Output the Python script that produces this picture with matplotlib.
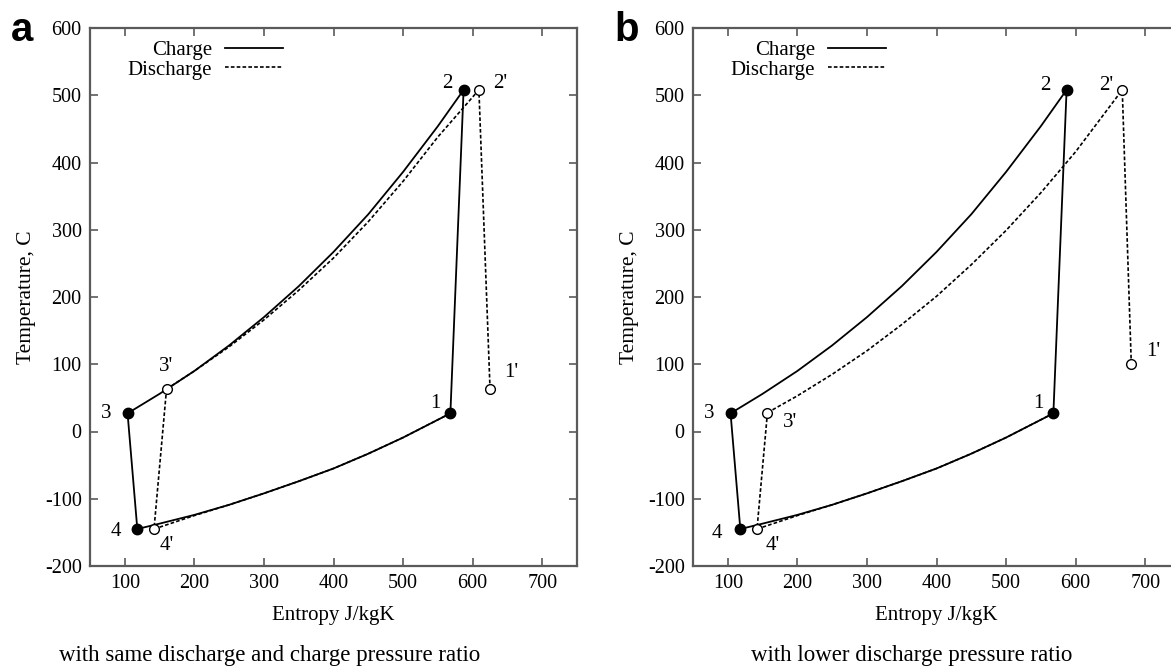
import matplotlib.pyplot as plt
from matplotlib.lines import Line2D

plt.rcParams['font.family'] = ['Liberation Serif', 'DejaVu Serif']
plt.rcParams['axes.unicode_minus'] = False

# charge cycle (same in both panels): state points 1..4
s_ch = [568, 587, 104, 118]
T_ch = [27, 508, 27, -145]
ch_names = ['1', '2', '3', '4']

# charge high pressure line 3 -> 2
s_ch_hi = [104, 150, 200, 250, 300, 350, 400, 450, 500, 550, 587]
T_ch_hi = [27, 56, 90, 128, 170, 216, 267, 323, 386, 454, 508]
# charge low pressure line 4 -> 1
s_ch_lo = [118, 150, 200, 250, 300, 350, 400, 450, 500, 568]
T_ch_lo = [-145, -137, -124, -109, -92, -74, -55, -33, -9, 27]

# panel a: discharge with same pressure ratio, states 1'..4'
s_dis_a = [625, 609, 160, 142]
T_dis_a = [63, 508, 63, -145]
s_dis_a_hi = [160, 200, 250, 300, 350, 400, 450, 500, 550, 609]
T_dis_a_hi = [63, 90, 126, 166, 210, 258, 312, 372, 438, 508]

# panel b: discharge with lower pressure ratio
s_dis_b = [680, 667, 157, 142]
T_dis_b = [100, 508, 28, -145]
s_dis_b_hi = [157, 200, 250, 300, 350, 400, 450, 500, 550, 600, 667]
T_dis_b_hi = [28, 53, 85, 120, 159, 201, 248, 299, 355, 416, 508]

# discharge low pressure line 4' -> 1
s_dis_lo = [142, 200, 250, 300, 350, 400, 450, 500, 568]
T_dis_lo = [-145, -125, -109, -92, -74, -55, -33, -9, 27]
dis_names = ["1'", "2'", "3'", "4'"]

# label positions
lab_a = {'1': (547, 42), '2': (563, 517), '3': (73, 27), '4': (87, -149),
         "1'": (655, 87), "2'": (640, 517), "3'": (160, 96), "4'": (161, -169)}
lab_b = {'1': (547, 42), '2': (557, 515), '3': (73, 27), '4': (85, -151),
         "1'": (711, 119), "2'": (644, 515), "3'": (190, 14), "4'": (164, -169)}

dash = (0, (2.2, 1.3))
gray = '#5a5a5a'

fig = plt.figure(figsize=(11.71, 6.69), dpi=100)
W, H = 1171, 669
ax_a = fig.add_axes([90 / W, 1 - 566 / H, 487 / W, 538 / H])
ax_b = fig.add_axes([693 / W, 1 - 566 / H, 487 / W, 538 / H])

panels = [
    (ax_a, s_dis_a, T_dis_a, s_dis_a_hi, T_dis_a_hi, lab_a, 'a',
     'with same discharge and charge pressure ratio', 270),
    (ax_b, s_dis_b, T_dis_b, s_dis_b_hi, T_dis_b_hi, lab_b, 'b',
     'with lower discharge pressure ratio', 912),
]

for ax, s_d, T_d, s_dh, T_dh, labs, letter, caption, cx in panels:
    # charge
    ax.plot(s_ch_hi, T_ch_hi, color='black', lw=1.3)
    ax.plot(s_ch_lo, T_ch_lo, color='black', lw=1.3)
    ax.plot([s_ch[0], s_ch[1]], [T_ch[0], T_ch[1]], color='black', lw=1.3)
    ax.plot([s_ch[2], s_ch[3]], [T_ch[2], T_ch[3]], color='black', lw=1.3)
    # discharge
    ax.plot(s_dh, T_dh, color='black', lw=1.2, ls=dash)
    ax.plot(s_dis_lo, T_dis_lo, color='black', lw=1.2, ls=dash)
    ax.plot([s_d[0], s_d[1]], [T_d[0], T_d[1]], color='black', lw=1.2, ls=dash)
    ax.plot([s_d[2], s_d[3]], [T_d[2], T_d[3]], color='black', lw=1.2, ls=dash)

    ax.plot(s_ch, T_ch, 'o', color='black', ms=7.5, zorder=5)
    ax.plot(s_d, T_d, 'o', mfc='white', mec='black', mew=1.0, ms=7, zorder=5)

    for name in ch_names + dis_names:
        x, y = labs[name]
        ax.text(x, y, name, fontsize=15, ha='center', va='center')

    ax.set_xlim(50, 750)
    ax.set_ylim(-200, 600)
    ax.set_xticks(range(100, 701, 100))
    ax.set_yticks(range(-200, 601, 100))
    ax.tick_params(direction='in', top=True, right=True, length=6,
                   width=1.2, color=gray, labelsize=14.5, pad=6)
    for sp in ax.spines.values():
        sp.set_color(gray)
        sp.set_linewidth(1.6)
    ax.set_xlabel('Entropy J/kgK', fontsize=15, labelpad=9)
    ax.set_ylabel('Temperature, C', fontsize=15.5, labelpad=6)

    handles = [Line2D([], [], color='black', lw=1.3),
               Line2D([], [], color='black', lw=1.2, ls=dash)]
    ax.legend(handles, ['Charge', 'Discharge'], loc='upper left',
              bbox_to_anchor=(0.052, 1.0), frameon=False, markerfirst=False,
              fontsize=15, handlelength=2.8, handletextpad=0.6,
              labelspacing=0.0, borderaxespad=0.2)

    bbox = ax.get_position()
    fig.text(bbox.x0 - 79 / W, bbox.y1 - 2 / H, letter, fontsize=29,
             fontweight='bold', family='Liberation Sans', ha='left', va='center')
    fig.text(cx / W, 1 - 655 / H, caption, fontsize=16.5, ha='center', va='center')

fig.savefig('out.png', dpi=100)
